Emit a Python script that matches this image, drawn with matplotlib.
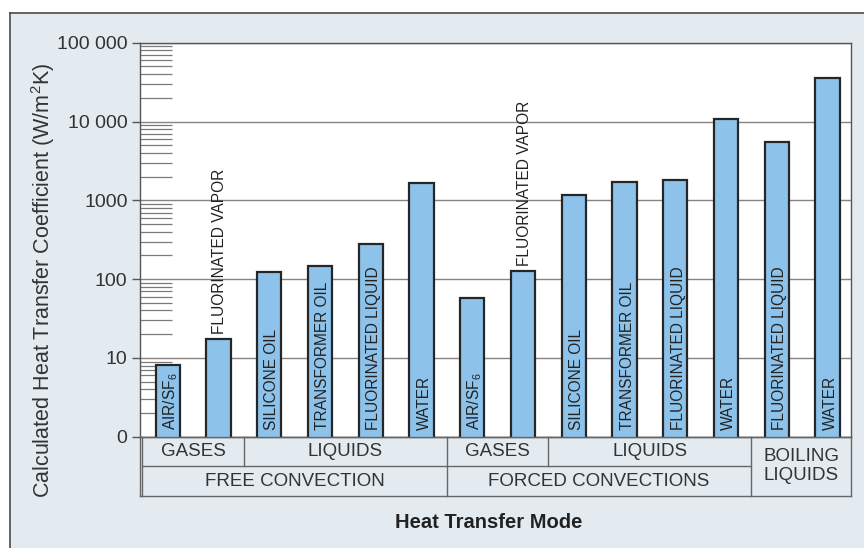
import matplotlib
matplotlib.use('Agg')
import matplotlib.pyplot as plt
from matplotlib.patches import Rectangle
from matplotlib.lines import Line2D
from matplotlib.ticker import LogLocator, NullFormatter
import numpy as np

plt.rcParams['font.family'] = ['Liberation Sans', 'DejaVu Sans']
plt.rcParams['mathtext.fontset'] = 'custom'
plt.rcParams['mathtext.rm'] = 'Liberation Sans'
plt.rcParams['mathtext.it'] = 'Liberation Sans:italic'
plt.rcParams['mathtext.default'] = 'regular'

# ---------------- data ----------------
bar_labels = ['AIR/SF$_6$', 'FLUORINATED VAPOR', 'SILICONE OIL', 'TRANSFORMER OIL',
              'FLUORINATED LIQUID', 'WATER',
              'AIR/SF$_6$', 'FLUORINATED VAPOR', 'SILICONE OIL', 'TRANSFORMER OIL',
              'FLUORINATED LIQUID', 'WATER',
              'FLUORINATED LIQUID', 'WATER']
values = [8.1, 17.2, 123, 145, 281, 1670,
          57.5, 126, 1160, 1710, 1820, 10900,
          5540, 35300]
label_above = [False, True, False, False, False, False,
               False, True, False, False, False, False,
               False, False]
ytick_values = [1, 10, 100, 1000, 10000, 100000]
ytick_labels = ['0', '10', '100', '1000', '10 000', '100 000']
sub_groups = ['GASES', 'LIQUIDS', 'GASES', 'LIQUIDS']
sub_group_spans = [(0, 1), (2, 5), (6, 7), (8, 11)]
main_groups = ['FREE CONVECTION', 'FORCED CONVECTIONS', 'BOILING\nLIQUIDS']
main_group_spans = [(0, 5), (6, 11), (12, 13)]

# ---------------- layout ----------------
W, H = 864, 548
def fx(px):
    return px / W
def fy(py):
    return 1 - py / H

fig = plt.figure(figsize=(8.64, 5.48), dpi=100, facecolor='white')

# background panel
panel = Rectangle((fx(10), 0), 1 - fx(10), fy(13), transform=fig.transFigure,
                  facecolor='#e4ebf0', edgecolor='none', zorder=-10)
fig.patches.append(panel)
fig.add_artist(Line2D([fx(10), fx(10)], [0, fy(13)], color='#4a4a4a', lw=1.2, zorder=-5))
fig.add_artist(Line2D([fx(10), 1], [fy(13), fy(13)], color='#4a4a4a', lw=1.2, zorder=-5))

XL, XR = -0.546, 13.463
ax_left, ax_right = 140, 851
ax_top, ax_bot = 42.7, 436.7
ax = fig.add_axes([fx(ax_left), fy(ax_bot), fx(ax_right) - fx(ax_left), (ax_bot - ax_top) / H])
ax.set_facecolor('white')
ax.set_yscale('log')
ax.set_xlim(XL, XR)
ax.set_ylim(1, 1e5)

x = np.arange(len(values))
ax.bar(x, values, width=0.48, color='#8dc3ea', edgecolor='#262626', linewidth=1.6, zorder=3)

ax.yaxis.grid(True, which='major', color='#8a827c', lw=1.0)
ax.set_axisbelow(True)
ax.set_yticks(ytick_values)
ax.set_yticklabels(ytick_labels)
ax.yaxis.set_minor_locator(LogLocator(base=10, subs=np.arange(2, 10)))
ax.yaxis.set_minor_formatter(NullFormatter())
ax.tick_params(axis='y', which='major', direction='out', length=5.5, width=1,
               color='#555555', pad=3.5, labelsize=14, labelcolor='#333333')
ax.tick_params(axis='y', which='minor', direction='in', length=23, width=0.9,
               color='#7a7a7a')
ax.set_xticks([])
for s in ax.spines.values():
    s.set_color('#555555')
    s.set_linewidth(1.0)

for i, lbl in enumerate(bar_labels):
    if label_above[i]:
        ax.annotate(lbl, xy=(x[i], values[i]), xytext=(1, 4), textcoords='offset points',
                    rotation=90, ha='center', va='bottom', fontsize=11.2,
                    color='#222222', zorder=5)
    else:
        ax.annotate(lbl, xy=(x[i], 1), xytext=(2, 5), textcoords='offset points',
                    rotation=90, ha='center', va='bottom', fontsize=11.2,
                    color='#222222', zorder=5)

# ---------------- category table ----------------
tab_bot = 496
tax = fig.add_axes([fx(ax_left), fy(tab_bot), fx(ax_right) - fx(ax_left), (tab_bot - ax_bot) / H])
tax.set_xlim(XL, XR)
tax.set_ylim(0, 2)
tax.axis('off')
lc = '#666666'
lw = 1.0

def cell(a, b):
    return max(a - 0.5, XL), min(b + 0.5, XR)

tax.plot([XL, XR], [0, 0], color=lc, lw=lw, clip_on=False)
tax.plot([XL, XR], [2, 2], color=lc, lw=lw, clip_on=False)
tax.plot([XL, XL], [0, 2], color=lc, lw=lw, clip_on=False)
tax.plot([XR, XR], [0, 2], color=lc, lw=lw, clip_on=False)

for name, (a, b) in zip(main_groups, main_group_spans):
    l, r = cell(a, b)
    if l > XL:
        tax.plot([l, l], [0, 2], color=lc, lw=lw, clip_on=False)
    subs = [(n, s) for n, s in zip(sub_groups, sub_group_spans) if s[0] >= a and s[1] <= b]
    if subs:
        tax.plot([l, r], [1, 1], color=lc, lw=lw, clip_on=False)
        for k, (n, (sa, sb)) in enumerate(subs):
            sl, sr = cell(sa, sb)
            if k > 0:
                tax.plot([sl, sl], [1, 2], color=lc, lw=lw, clip_on=False)
            tax.text((sl + sr) / 2, 1.5, n, ha='center', va='center', fontsize=13.5,
                     color='#333333')
        tax.text((l + r) / 2, 0.5, name, ha='center', va='center', fontsize=13.5,
                 color='#333333')
    else:
        tax.text((l + r) / 2, 1.0, name, ha='center', va='center', fontsize=13.5,
                 color='#333333', linespacing=1.15)

# ---------------- axis titles ----------------
fig.text(fx(43), fy(280), 'Calculated Heat Transfer Coefficient (W/m$^2$K)', rotation=90,
         ha='center', va='center', fontsize=15.5, color='#333333')
fig.text(fx(489), fy(522), 'Heat Transfer Mode', ha='center', va='center', fontsize=14.5,
         fontweight='bold', color='#222222')

fig.savefig('out.png', dpi=100, facecolor=fig.get_facecolor())
